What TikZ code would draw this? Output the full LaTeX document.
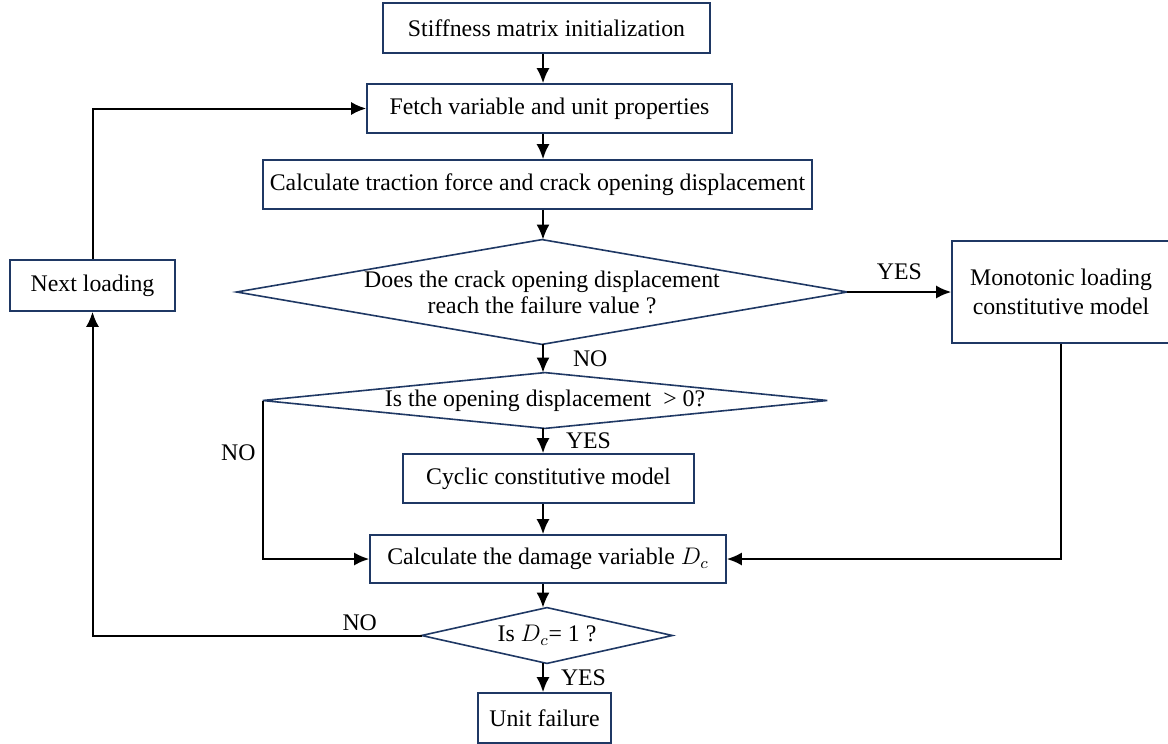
\documentclass[tikz,border=0pt]{standalone}
\usepackage{fontspec}
\setmainfont{Liberation Serif}
\usetikzlibrary{positioning,calc,arrows.meta}
\definecolor{boxline}{RGB}{31,56,100}
\tikzset{standard edge/.style={line width=1pt,-{Latex[length=7.5pt,width=6.5pt]}},
 tag/.style={inner sep=0pt,font=\fontsize{11.9}{14}\selectfont}}

\begin{document}
\begin{tikzpicture}[x=0.5pt,y=-0.5pt,
 boot/.style={draw=boxline,line width=0.8pt,align=center,inner sep=0pt,font=\fontsize{11.9}{14.5}\selectfont},
 query/.style={align=center,inner sep=0pt,font=\fontsize{11.9}{13}\selectfont}]
\useasboundingbox (0,0) rectangle (1168,744);
\coordinate (spine) at (543,0);

\node[boot,minimum width=163.5pt,minimum height=25pt] (init) at (546.5,28) {Stiffness matrix initialization};
\node[boot,minimum width=182.5pt,minimum height=24.5pt] (fetch) at (549.5,108.5) {Fetch variable and unit properties};
\node[boot,minimum width=274.5pt,minimum height=24.5pt] (calc) at (537.5,184.5) {Calculate traction force and crack opening displacement};
\node[query,minimum width=305pt,minimum height=52pt] (q1) at (542,292) {Does the crack opening displacement\\reach the failure value ?};
\node[query,minimum width=282pt,minimum height=27.5pt] (q2) at (545,400.5) {Is the opening displacement \ > 0?};
\node[boot,minimum width=145.5pt,minimum height=24.5pt] (cyclic) at (548.5,478.5) {Cyclic constitutive model};
\node[boot,minimum width=178pt,minimum height=24pt] (damage) at (548,559) {Calculate the damage variable $D_c$};
\node[query,minimum width=125pt,minimum height=27.5pt] (q3) at (547,635.5) {Is $D_c$= 1 ?};
\node[boot,minimum width=66.5pt,minimum height=25pt] (fail) at (544.5,718) {Unit failure};
\node[boot,minimum width=82.5pt,minimum height=25.5pt] (next) at (92.5,285.5) {Next loading};
\node[boot,minimum width=109pt,minimum height=51pt] (mono) at (1061,292) {Monotonic loading\\constitutive model};

% decision outlines
\foreach \q in {q1,q2,q3}
  \draw[draw=boxline,line width=0.8pt] (\q.west) -- (\q.north) -- (\q.east) -- (\q.south) -- cycle;

\draw[standard edge] (init.south -| spine) -- (fetch.north -| spine);
\draw[standard edge] (fetch.south -| spine) -- (calc.north -| spine);
\draw[standard edge] (calc.south -| spine) -- (q1.north -| spine);
\draw[standard edge] (q1.east) -- node[tag,above=5.5pt] {YES} (mono.west);
\draw[standard edge] (q1.south -| spine) -- node[tag,right=14.5pt] {NO} (q2.north -| spine);
\draw[standard edge] (q2.south -| spine) -- node[tag,right=11pt] {YES} (cyclic.north -| spine);
\draw[standard edge] (cyclic.south -| spine) -- (damage.north -| spine);
\draw[standard edge] (q2.west) |- node[tag,pos=0.165,left=3pt] {NO} (damage.west);
\draw[standard edge] (mono.south) |- (damage.east);
\draw[standard edge] (damage.south -| spine) -- (q3.north -| spine);
\draw[standard edge] (q3.south -| spine) -- node[tag,right=8.5pt] {YES} (fail.north -| spine);
\draw[standard edge] (q3.west) -| node[tag,pos=0.094,above=2pt] {NO} (next.south);
\draw[standard edge] (next.north) |- (fetch.west);
\end{tikzpicture}
\end{document}
